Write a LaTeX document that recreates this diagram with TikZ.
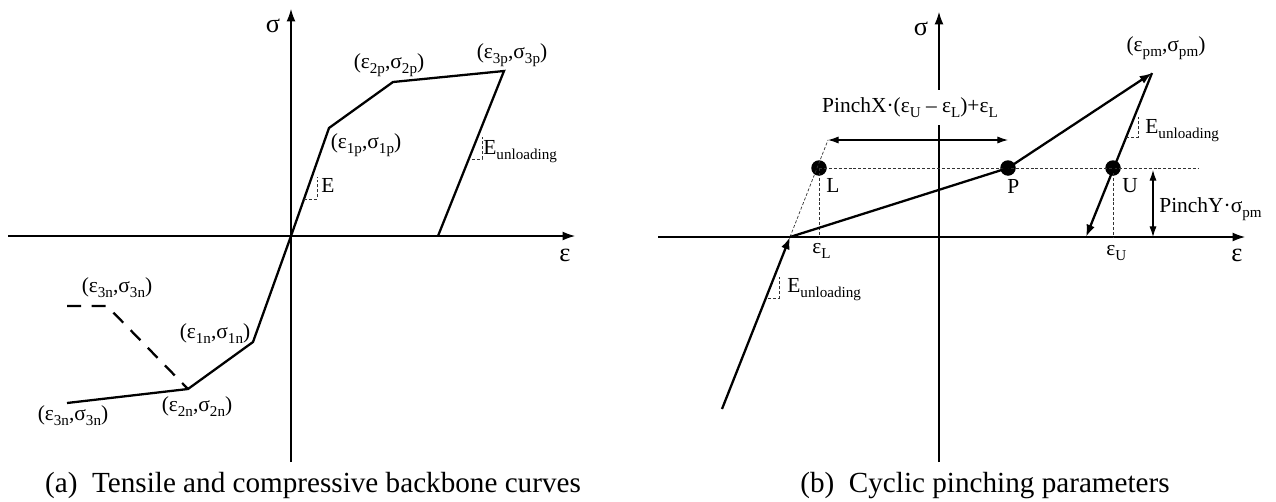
\documentclass[tikz,border=0pt]{standalone}
\usepackage{fontspec}
\setmainfont{Liberation Serif}
\usetikzlibrary{arrows.meta,positioning}

\newcommand{\lsub}[1]{\raisebox{-0.27em}{\fontsize{8.6}{10}\selectfont #1}}

\tikzset{
  ax/.style={line width=0.6pt,-{Latex[length=7pt,width=5pt]}},
  bb/.style={line width=1.3pt},
  bbarr/.style={bb,-{Latex[length=7pt,width=5pt]}},
  dim/.style={line width=0.6pt,{Latex[length=6pt,width=4pt]}-{Latex[length=6pt,width=4pt]}},
  guide/.style={line width=0.4pt,black!80,dash pattern=on 1.7pt off 1.1pt},
  knot/.style={circle,fill=black,inner sep=0pt,minimum size=0.31cm},
  lbl/.style={inner sep=0pt,font=\fontsize{12.2}{14}\selectfont},
  axlbl/.style={inner sep=0pt,font=\fontsize{15}{18}\selectfont},
  captxt/.style={inner sep=0pt,font=\fontsize{16.6}{20}\selectfont},
}

\begin{document}
\begin{tikzpicture}[x=0.02cm,y=-0.02cm]
\useasboundingbox (0,0) rectangle (1276,501);
% ---- (a) tensile and compressive backbone ----
\begin{scope}
  \coordinate (oa) at (291,236);
  \coordinate (xa0) at (8,236);
  \coordinate (xa1) at (575,236);
  \coordinate (ya0) at (291,462);
  \coordinate (ya1) at (291,9);
  \coordinate (p1) at (329,128);
  \coordinate (p2) at (393,82);
  \coordinate (p3) at (504,71);
  \coordinate (pu) at (438,236);
  \coordinate (n1) at (253,342);
  \coordinate (n2) at (188,389);
  \coordinate (n3) at (67,403);
  \coordinate (d1) at (107,306);
  \coordinate (d2) at (67,306);
  \draw[ax] (xa0) -- (xa1);
  \draw[ax] (ya0) -- (ya1);
  \node[axlbl,anchor=base] (sa) at (273,32) {σ};
  \node[axlbl,anchor=base] (ea) at (565,261) {ε};
  \draw[bb] (n3) -- (n2) -- (n1) -- (oa) -- (p1) -- (p2) -- (p3) -- (pu);
  \draw[bb,dash pattern=on 8pt off 6pt] (d2) -- (d1) -- (n2);
  % slope marks
  \draw[guide] (304,199) -- (317,199) -- (317,177);
  \draw[guide] (472,159) -- (482,159) -- (482,137);
  \node[lbl,anchor=base west] (ea1) at (321,192) {E};
  \node[lbl,anchor=base west] (eu1) at (483,154) {E\lsub{unloading}};
  \node[lbl,anchor=base] (l1p) at (366,148) {(ε\lsub{1p},σ\lsub{1p})};
  \node[lbl,anchor=base] (l2p) at (389,68) {(ε\lsub{2p},σ\lsub{2p})};
  \node[lbl,anchor=base] (l3p) at (512,58) {(ε\lsub{3p},σ\lsub{3p})};
  \node[lbl,anchor=base] (l1n) at (215,338) {(ε\lsub{1n},σ\lsub{1n})};
  \node[lbl,anchor=base] (l2n) at (197,411) {(ε\lsub{2n},σ\lsub{2n})};
  \node[lbl,anchor=base] (l3n) at (73,420) {(ε\lsub{3n},σ\lsub{3n})};
  \node[lbl,anchor=base] (l3d) at (117,292) {(ε\lsub{3n},σ\lsub{3n})};
  \node[captxt,anchor=base] (capa) at (313,492) {(a)\enspace Tensile and compressive backbone curves};
\end{scope}
% ---- (b) cyclic pinching ----
\begin{scope}
  \coordinate (xb0) at (658,237);
  \coordinate (xb1) at (1245,237);
  \coordinate (yb0) at (939,462);
  \coordinate (yb1) at (939,12);
  \coordinate (s0) at (722,409);
  \coordinate (s1) at (790,237);
  \coordinate (pm) at (1152,73);
  \coordinate (s2) at (1086,237);
  \coordinate (xl) at (828,140);
  \coordinate (xr) at (1008,140);
  \coordinate (hr) at (1198,168);
  \coordinate (yt) at (1153,170);
  \coordinate (yb) at (1153,237);
  \draw[ax] (xb0) -- (xb1);
  \draw[ax] (yb0) -- (yb1);
  \node[axlbl,anchor=base] (sb) at (921,35) {σ};
  \node[axlbl,anchor=base] (eb) at (1237,261) {ε};
  \node[knot] (L) at (819,168) {};
  \node[knot] (P) at (1008,168) {};
  \node[knot] (U) at (1113,168) {};
  \draw[guide] (L.center) -- (hr);
  \draw[guide] (L.center) -- (L.center |- s1);
  \draw[guide] (U.center) -- (U.center |- s1);
  \draw[guide] (s1) -- (xl);
  \draw[dim] (xl) -- (xr);
  \draw[dim] (yt) -- (yb);
  \draw[bbarr] (s0) -- (s1);
  \draw[bb] (s1) -- (P.center);
  \draw[bbarr] (P.center) -- (pm);
  \draw[bbarr] (pm) -- (s2);
  % slope marks
  \draw[guide] (1126,137) -- (1138,137) -- (1138,115);
  \draw[guide] (768,298) -- (779,298) -- (779,275);
  \node[lbl,anchor=base,fill=white,inner xsep=2pt,inner ysep=4pt] (px) at (910,112) {PinchX·(ε\lsub{U} – ε\lsub{L})+ε\lsub{L}};
  \node[lbl,anchor=base west] (py) at (1159,212) {PinchY·σ\lsub{pm}};
  \node[lbl,anchor=base] (lpm) at (1166,51) {(ε\lsub{pm},σ\lsub{pm})};
  \node[lbl,anchor=base west] (eu2) at (1145,133) {E\lsub{unloading}};
  \node[lbl,anchor=base west] (eu3) at (787,292) {E\lsub{unloading}};
  \node[lbl,anchor=base west] (lL) at (826,192) {L};
  \node[lbl,anchor=base west] (lP) at (1007,193) {P};
  \node[lbl,anchor=base west] (lU) at (1122,192) {U};
  \node[lbl,anchor=base west] (eL) at (812,253) {ε\lsub{L}};
  \node[lbl,anchor=base west] (eU) at (1106,255) {ε\lsub{U}};
  \node[captxt,anchor=base] (capb) at (985,492) {(b)\enspace Cyclic pinching parameters};
\end{scope}
\end{tikzpicture}
\end{document}
